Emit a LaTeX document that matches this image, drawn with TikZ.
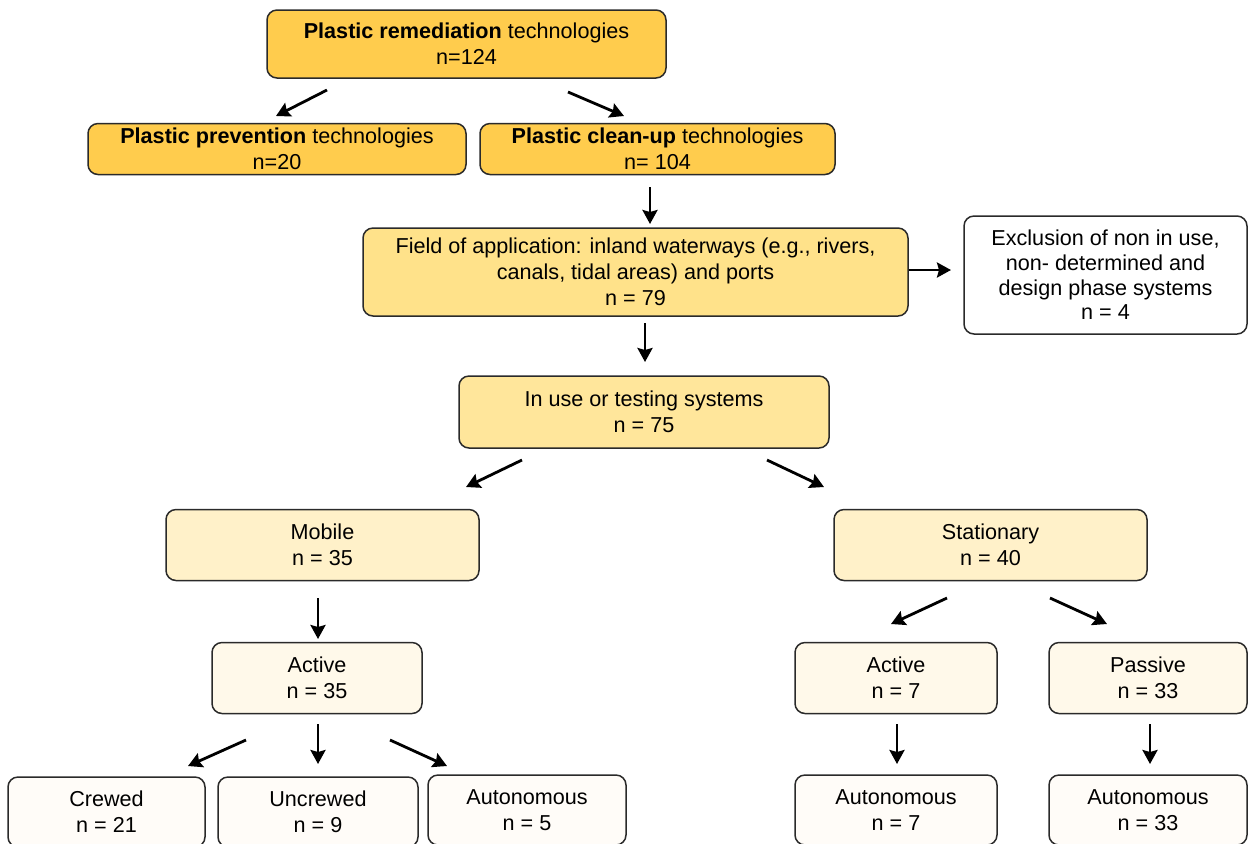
\documentclass[tikz,border=0pt]{standalone}
\usepackage{fontspec}
\setmainfont{Liberation Sans}
\usetikzlibrary{arrows.meta}
\definecolor{gold}{HTML}{FFCC4D}
\definecolor{fieldc}{HTML}{FFE28A}
\definecolor{usec}{HTML}{FFE69B}
\definecolor{mobc}{HTML}{FFF1C9}
\definecolor{actc}{HTML}{FFF9EA}
\definecolor{botc}{HTML}{FFFCF8}
\definecolor{edge}{HTML}{2A2A2A}
\tikzset{
  box/.style={draw=edge, line width=0.75pt, rounded corners=5pt, align=center, inner sep=0pt,
    font=\fontsize{10.8}{13}\selectfont},
  arr/.style={-{Stealth[length=7pt,width=7.5pt,inset=1pt]}, line width=1.4pt, black}
}
\begin{document}
\begin{tikzpicture}[x=0.5pt,y=-0.5pt]
\useasboundingbox (0,0) rectangle (1248,843);
\clip (0,0) rectangle (1248,843);
% nodes
\node[box, fill=gold, minimum width=199.5pt, minimum height=34pt] (top) at (466.5,44) {\textbf{Plastic remediation} technologies\\n=124};
\node[box, fill=gold, minimum width=189pt, minimum height=25.5pt] (prev) at (277,149) {\textbf{Plastic prevention} technologies\\n=20};
\node[box, fill=gold, minimum width=177.5pt, minimum height=25.5pt] (clean) at (657.5,149) {\textbf{Plastic clean-up} technologies\\n= 104};
\node[box, fill=fieldc, minimum width=272.5pt, minimum height=44pt] (field) at (635.5,272) {Field of application: inland waterways (e.g., rivers,\\canals, tidal areas) and ports\\n = 79};
\node[box, fill=white, minimum width=141.5pt, minimum height=59pt, font=\fontsize{10.8}{12.3}\selectfont] (excl) at (1105.5,275) {Exclusion of non in use,\\non- determined and\\design phase systems\\n = 4};
\node[box, fill=usec, minimum width=185pt, minimum height=36pt] (inuse) at (644,412) {In use or testing systems\\n = 75};
\node[box, fill=mobc, minimum width=156.5pt, minimum height=35.5pt] (mobile) at (322.5,545) {Mobile\\n = 35};
\node[box, fill=mobc, minimum width=156.5pt, minimum height=35.5pt] (stat) at (990.5,545) {Stationary\\n = 40};
\node[box, fill=actc, minimum width=105pt, minimum height=35.5pt] (actm) at (317,678) {Active\\n = 35};
\node[box, fill=actc, minimum width=101pt, minimum height=35.5pt] (acts) at (896,678) {Active\\n = 7};
\node[box, fill=actc, minimum width=99pt, minimum height=35.5pt] (pass) at (1148,678) {Passive\\n = 33};
\node[box, fill=botc, minimum width=98.5pt, minimum height=35pt] (crew) at (106.5,812) {Crewed\\n = 21};
\node[box, fill=botc, minimum width=100pt, minimum height=35pt] (uncrew) at (318,812) {Uncrewed\\n = 9};
\node[box, fill=botc, minimum width=99pt, minimum height=35pt] (autm) at (527,810) {Autonomous\\n = 5};
\node[box, fill=botc, minimum width=101pt, minimum height=35pt] (auts) at (896,810) {Autonomous\\n = 7};
\node[box, fill=botc, minimum width=99pt, minimum height=35pt] (autp) at (1148,810) {Autonomous\\n = 33};
% arrow end points
\coordinate (a1s) at (327,90);  \coordinate (a1e) at (276,116);
\coordinate (a2s) at (568,92);  \coordinate (a2e) at (624,116);
\coordinate (a3s) at (650,187); \coordinate (a3e) at (650,224);
\coordinate (a4s) at (909,270); \coordinate (a4e) at (951,270);
\coordinate (a5s) at (645,323); \coordinate (a5e) at (645,362);
\coordinate (a6s) at (522,460); \coordinate (a6e) at (466,487);
\coordinate (a7s) at (767,460); \coordinate (a7e) at (824,487);
\coordinate (a8s) at (318,598); \coordinate (a8e) at (318,639);
\coordinate (a9s) at (246,740); \coordinate (a9e) at (188,766);
\coordinate (a10s) at (318,724); \coordinate (a10e) at (318,764);
\coordinate (a11s) at (390,740); \coordinate (a11e) at (447,766);
\coordinate (a12s) at (947,598); \coordinate (a12e) at (891,624);
\coordinate (a13s) at (1050,598); \coordinate (a13e) at (1107,624);
\coordinate (a14s) at (897,724); \coordinate (a14e) at (897,764);
\coordinate (a15s) at (1150,724); \coordinate (a15e) at (1150,764);
\foreach \i in {1,...,15} { \draw[arr] (a\i s) -- (a\i e); }
\end{tikzpicture}
\end{document}
